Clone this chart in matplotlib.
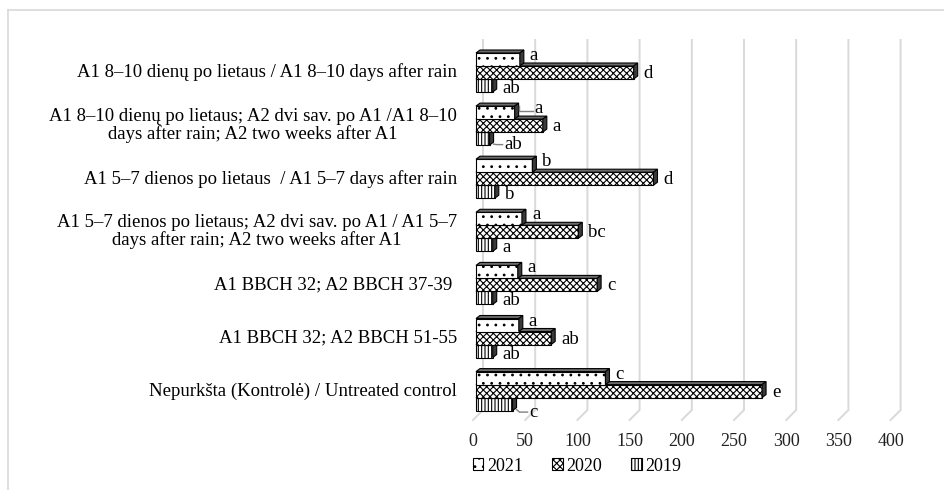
import matplotlib
matplotlib.use('Agg')
import matplotlib.pyplot as plt
import matplotlib.transforms as mtransforms
from matplotlib.patches import Polygon, Rectangle, Patch
from matplotlib.lines import Line2D

plt.rcParams['font.family'] = ['Liberation Serif', 'DejaVu Serif']
plt.rcParams['hatch.linewidth'] = 0.8

categories = [
    'A1 8–10 dienų po lietaus / A1 8–10 days after rain',
    'A1 8–10 dienų po lietaus; A2 dvi sav. po A1 /A1 8–10\ndays after rain; A2 two weeks after A1',
    'A1 5–7 dienos po lietaus  / A1 5–7 days after rain',
    'A1 5–7 dienos po lietaus; A2 dvi sav. po A1 / A1 5–7\ndays after rain; A2 two weeks after A1',
    'A1 BBCH 32; A2 BBCH 37-39 ',
    'A1 BBCH 32; A2 BBCH 51-55',
    'Nepurkšta (Kontrolė) / Untreated control',
]
years = ['2021', '2020', '2019']
v2021 = [42, 37, 54, 44, 40, 41, 124]
v2020 = [151, 64, 170, 98, 116, 72, 274]
v2019 = [16, 13, 18, 16, 16, 16, 35]
let2021 = ['a', 'a', 'b', 'a', 'a', 'a', 'c']
let2020 = ['d', 'a', 'd', 'bc', 'c', 'ab', 'e']
let2019 = ['ab', 'ab', 'b', 'a', 'ab', 'ab', 'c']
xticks = [0, 50, 100, 150, 200, 250, 300, 350, 400]

W, H = 945, 490
fig = plt.figure(figsize=(W / 100, H / 100), dpi=100)

# pixel scale of the plot: value 0 at x=476, 52.2 px per 50 units
PX_X = 1.044
PX_Y = 53.1
X0, Y0 = 476, 72.5
xlim = (-15, 420)
ylim_px = (35, 425)
ax = fig.add_axes([(X0 + xlim[0] * PX_X) / W, 1 - ylim_px[1] / H,
                   (xlim[1] - xlim[0]) * PX_X / W, (ylim_px[1] - ylim_px[0]) / H])
ax.set_xlim(*xlim)
ax.set_ylim((ylim_px[1] - Y0) / PX_Y, (ylim_px[0] - Y0) / PX_Y)
ax.axis('off')

FS = 13.5


def px_x(p):
    return p / PX_X


def px_y(p):
    return p / PX_Y


def row(p):
    return (p - Y0) / PX_Y


# back-wall gridlines with the short slanted floor edge
grid_c = '#d9d9d9'
tick_tr = mtransforms.blended_transform_factory(ax.transData, fig.transFigure)
for v in xticks:
    ax.plot([v + px_x(7), v + px_x(7), v - px_x(3)], [row(40), row(410), row(420)],
            color=grid_c, lw=1.4, zorder=1, solid_joinstyle='miter')
    ax.text(v - px_x(3), 1 - 441 / H, str(v), fontsize=13, color='#222222',
            ha='center', va='center', transform=tick_tr)

dx, dy = px_x(4), px_y(3)
bh = px_y(13)


def bar3d(v, yc, hatch, z):
    top, bot = yc - bh / 2, yc + bh / 2
    ax.add_patch(Rectangle((0, top), v, bh, facecolor='white', edgecolor='black',
                           hatch=hatch, lw=0.8, zorder=z))
    ax.add_patch(Polygon([(0, top), (dx, top - dy), (v + dx, top - dy), (v, top)],
                         facecolor='#6a6a6a', edgecolor='black', lw=0.8, zorder=z))
    ax.add_patch(Polygon([(v, top), (v + dx, top - dy), (v + dx, bot - dy), (v, bot)],
                         facecolor='#3a3a3a', edgecolor='black', lw=0.8, zorder=z))


series = [
    (v2019, let2019, '|||||', bh, 3),
    (v2020, let2020, 'xxxxx', 0, 4),
    (v2021, let2021, '..', -bh, 5),
]
text_dy = {0: px_y(3), 1: px_y(1), 2: px_y(-4)}
# labels pulled away from short bars, with a leader line
leaders = {(2, 1): (20, -4), (0, 1): (15, 6), (0, 6): (17, 8)}

for si, (vals, lets, hatch, off, z) in enumerate(series):
    for i, (v, lt) in enumerate(zip(vals, lets)):
        yc = i + off
        bar3d(v, yc, hatch, z)
        if (si, i) in leaders:
            lx, ly = leaders[(si, i)]
            tx, ty = v + px_x(lx), yc + px_y(ly)
            if ly < 0:
                ax.plot([v + dx, v + dx, tx - px_x(2)],
                        [yc - bh / 2, ty + px_y(2), ty + px_y(2)],
                        color='#808080', lw=1, zorder=6)
            else:
                ax.plot([v + dx, v + dx + px_x(3), tx - px_x(2)],
                        [yc + bh / 2 - px_y(1), ty, ty],
                        color='#808080', lw=1, zorder=6)
            ax.text(tx, ty, lt, fontsize=FS, ha='left', va='center', zorder=7)
        else:
            ax.text(v + px_x(10), yc + text_dy[si], lt, fontsize=FS,
                    ha='left', va='center', zorder=7)

# category labels, right-aligned left of the plot
lab_tr = mtransforms.blended_transform_factory(fig.transFigure, ax.transData)
for i, c in enumerate(categories):
    ax.text(457 / W, i, c, fontsize=FS, ha='right', va='center', linespacing=1.0,
            multialignment='center', transform=lab_tr, clip_on=False)

handles = [
    Patch(facecolor='white', edgecolor='black', hatch='..', lw=0.8),
    Patch(facecolor='white', edgecolor='black', hatch='xxxxx', lw=0.8),
    Patch(facecolor='white', edgecolor='black', hatch='|||||', lw=0.8),
]
fig.legend(handles, years, loc='center', bbox_to_anchor=(577 / W, 1 - 466 / H),
           ncol=3, frameon=False, fontsize=13, handlelength=0.6, handleheight=0.6,
           handletextpad=0.2, columnspacing=1.6)

# chart area border (top and left edges)
fig.add_artist(Line2D([8 / W, 1], [1 - 10 / H, 1 - 10 / H], color=grid_c, lw=1.2,
                      transform=fig.transFigure))
fig.add_artist(Line2D([8 / W, 8 / W], [1 - 10 / H, 0], color=grid_c, lw=1.2,
                      transform=fig.transFigure))

fig.savefig('out.png', dpi=100)
